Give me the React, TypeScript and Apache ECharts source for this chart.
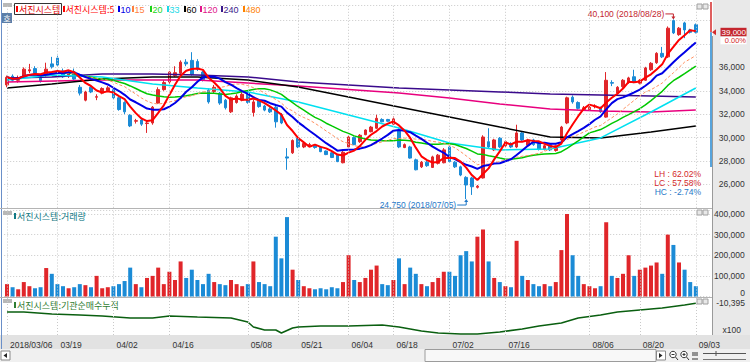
import React, { useEffect, useRef } from "react";
import * as echarts from "echarts";

// ---------- DATA ----------
const dates = [
  "2018/03/06","2018/03/07","2018/03/08","2018/03/09","2018/03/12","2018/03/13","2018/03/14","2018/03/15","2018/03/16","2018/03/19",
  "2018/03/20","2018/03/21","2018/03/22","2018/03/23","2018/03/26","2018/03/27","2018/03/28","2018/03/29","2018/03/30","2018/04/02",
  "2018/04/03","2018/04/04","2018/04/05","2018/04/06","2018/04/09","2018/04/10","2018/04/11","2018/04/12","2018/04/13","2018/04/16",
  "2018/04/17","2018/04/18","2018/04/19","2018/04/20","2018/04/23","2018/04/24","2018/04/25","2018/04/26","2018/04/27","2018/04/30",
  "2018/05/02","2018/05/03","2018/05/04","2018/05/08","2018/05/09","2018/05/10","2018/05/11","2018/05/14","2018/05/15","2018/05/16",
  "2018/05/17","2018/05/18","2018/05/21","2018/05/23","2018/05/24","2018/05/25","2018/05/28","2018/05/29","2018/05/30","2018/05/31",
  "2018/06/01","2018/06/04","2018/06/05","2018/06/07","2018/06/08","2018/06/11","2018/06/12","2018/06/14","2018/06/15","2018/06/18",
  "2018/06/19","2018/06/20","2018/06/21","2018/06/22","2018/06/25","2018/06/26","2018/06/27","2018/06/28","2018/06/29","2018/07/02",
  "2018/07/03","2018/07/04","2018/07/05","2018/07/06","2018/07/09","2018/07/10","2018/07/11","2018/07/12","2018/07/13","2018/07/16",
  "2018/07/17","2018/07/18","2018/07/19","2018/07/20","2018/07/23","2018/07/24","2018/07/25","2018/07/26","2018/07/27","2018/07/30",
  "2018/07/31","2018/08/01","2018/08/02","2018/08/03","2018/08/06","2018/08/07","2018/08/08","2018/08/09","2018/08/10","2018/08/13",
  "2018/08/14","2018/08/16","2018/08/17","2018/08/20","2018/08/21","2018/08/22","2018/08/23","2018/08/24","2018/08/27","2018/08/28",
  "2018/08/29","2018/08/30","2018/08/31","2018/09/03"
];

const opens = [
  34500,35250,34900,35250,35700,35900,35200,35300,36300,36800,
  35700,35300,35600,34300,33200,34300,33450,33800,34000,34100,
  33400,33000,31900,31400,31500,31200,31250,32950,34100,34750,
  35300,35500,36450,36600,36500,35600,34050,33950,33800,33200,
  32200,33000,33200,33800,32150,33150,32700,32450,32600,31950,
  28350,28700,29950,29200,29350,29350,29200,28850,28700,28500,
  27850,29200,30000,29650,30250,30500,30800,31550,31550,31150,
  30650,29150,29200,28100,27500,27900,27450,27800,27850,29200,
  27900,27500,26600,26550,25750,26550,29650,28950,29950,29300,
  29500,29200,30400,29350,29800,29500,29000,29400,28900,29800,
  31250,33450,33000,32400,32400,32650,32550,31750,34700,33800,
  34350,34700,35200,34650,34900,35800,36400,37200,36900,40000,
  38800,39800,39200,39650
];
const closes = [
  35150,34900,35100,35850,35800,35500,34850,35850,36050,36200,
  35200,35450,35000,33800,33900,33900,33500,34200,34250,33400,
  32400,32200,31000,31450,31150,31250,32600,34100,34700,35600,
  35550,36450,36300,35400,35850,34950,33050,34300,32950,32550,
  33400,33550,33700,33000,33050,32650,32350,32200,31350,31250,
  28250,29750,29200,29500,29400,29150,28800,28550,28300,27950,
  28750,30050,29400,30200,30650,30900,31650,31350,31400,31600,
  29200,29400,28250,27250,27900,27600,28350,28500,28950,27950,
  27500,26800,25950,25800,25850,30050,29200,29800,29200,29650,
  29200,30400,29800,29800,29400,29000,29300,28950,29300,30900,
  33400,33050,32500,32550,32600,32700,32200,34900,34650,34300,
  34900,35100,34750,34900,35950,36350,37200,36900,39350,38950,
  39350,39200,39000,39000
];
const lows = [
  34300,34800,34700,35100,35500,35400,34700,35200,35900,36100,
  35100,35100,34900,33600,33100,33800,33200,33700,33900,33300,
  32300,32000,30900,31200,31000,30400,31100,32900,34000,34600,
  35200,35400,36100,35300,35700,34800,32900,33800,32800,32400,
  32100,32900,33100,32900,31800,32550,32250,32100,30850,31150,
  27250,28600,29100,29100,29250,29050,28750,28500,28250,27900,
  27800,29100,29350,29550,30200,30450,30750,31300,31350,31100,
  29100,29100,28200,27200,27400,27500,27400,27700,27800,27850,
  27400,26700,24750,25100,25650,26500,29100,28850,29100,29200,
  29100,29100,29700,29300,29300,28900,28900,28850,28800,29700,
  31150,32900,32400,32300,32300,32500,32100,31700,34400,33700,
  34250,34600,34650,34550,34850,35700,36300,36800,36800,38850,
  38700,38500,38900,38900
];
const highs = [
  35300,35400,35300,36000,36300,36100,35300,36400,36900,37000,
  35900,35700,35900,34500,34000,34400,33700,34300,34400,34300,
  33500,33100,32000,31600,31600,31400,32700,34300,34900,35700,
  36100,36600,36700,37300,36700,35700,34200,34500,33900,33300,
  33500,33700,33900,34000,33250,33250,32800,32600,32750,32100,
  29100,29850,30050,29600,29550,29450,29250,28900,28750,28550,
  28850,30150,30100,30300,30700,31000,31950,31650,31600,31800,
  30800,29500,29300,28200,28000,28000,28450,28600,29100,29300,
  28000,27600,26700,26650,25950,30200,30800,29900,30050,29750,
  29600,31100,30500,29900,29900,29600,29400,29500,29400,31000,
  33500,33600,33100,32700,32800,32850,32650,35600,34900,34400,
  35000,35200,35800,35000,36050,36450,37300,37750,39500,40100,
  39450,39900,39300,39750
];
const volumes = [
  60000,45000,35000,70000,50000,40000,45000,138000,110000,60000,
  50000,40000,45000,60000,55000,45000,100000,40000,45000,50000,
  60000,75000,140000,60000,45000,90000,100000,140000,60000,120000,
  80000,170000,90000,130000,80000,60000,110000,70000,60000,55000,
  80000,60000,50000,60000,170000,70000,60000,50000,290000,185000,
  385000,130000,80000,50000,40000,35000,40000,35000,45000,40000,
  70000,200000,80000,70000,90000,130000,150000,60000,55000,80000,
  185000,60000,140000,110000,60000,50000,70000,90000,120000,120000,
  100000,200000,220000,170000,290000,325000,170000,90000,70000,50000,
  45000,270000,100000,80000,60000,50000,60000,50000,70000,225000,
  400000,200000,100000,60000,50000,40000,50000,360000,100000,90000,
  110000,200000,100000,130000,140000,150000,165000,110000,300000,250000,
  165000,130000,70000,50000
];
// long moving averages: [candle index, value]
const ma33Points = [[0,34920],[8,35350],[17,35180],[26,34580],[34,34240],[43,33900],[52,33040],[61,31930],[70,30820],[79,29540],[88,28940],[97,29030],[106,29970],[115,32190],[123,34240]];
const ma60Points = [[0,34240],[8,34580],[17,35010],[26,35180],[34,35180],[43,34920],[52,34320],[61,33470],[70,32610],[79,31760],[88,30900],[97,30050],[106,29970],[115,30480],[123,31000]];
const ma120Points = [[0,34750],[17,34920],[34,34920],[52,34410],[70,33810],[79,33380],[88,32870],[97,32440],[106,32270],[115,32190],[123,32360]];
const ma240Points = [[0,35090],[8,35180],[17,35440],[26,35440],[34,35350],[43,35180],[52,34750],[61,34500],[70,34240],[79,34070],[88,33900],[97,33730],[106,33640],[115,33560],[123,33470]];
// institutional net-buying cumulative (x100 shares): [candle index, value]
const instCumPoints = [[0,-19100],[3,-19100],[8,-21100],[13,-22100],[17,-23100],[22,-25100],[26,-25100],[29,-23100],[34,-24100],[40,-25100],[43,-29100],[44,-34100],[46,-37100],[48,-37100],[49,-40100],[51,-35100],[52,-34100],[56,-33100],[61,-33100],[67,-32100],[70,-34100],[74,-38100],[77,-40100],[81,-41100],[84,-41100],[88,-39100],[92,-36100],[95,-33100],[99,-30100],[102,-25100],[106,-22100],[109,-19100],[113,-17100],[117,-15100],[121,-12100],[123,-10395]];
const dateTickIdx = [0, 9, 19, 29, 43, 52, 61, 69, 79, 89, 104, 113, 123];

// ---------- STYLE ----------
const UP = "#e0262a";
const DOWN = "#1b8bd6";
const NUM_FONT = "'Liberation Sans', Arial, sans-serif";
const KR_FONT = "'Noto Sans CJK KR', sans-serif";
const GRID_LINE = { color: "#c9c9c9", type: [1, 2] as any, width: 1 };
const MA_COLORS: Record<number, string> = {
  5: "#ff0000", 10: "#0000e6", 15: "#ff9060", 20: "#00c800", 33: "#00e0f0",
  60: "#000000", 120: "#e8007e", 240: "#3a0a8c", 480: "#ff8000",
};

const fmt = (v: number) => v.toLocaleString("en-US");

function sma(arr: number[], n: number) {
  return arr.map((_, i) => {
    const s = Math.max(0, i - n + 1);
    let sum = 0;
    for (let k = s; k <= i; k++) sum += arr[k];
    return Math.round(sum / (i - s + 1));
  });
}

export default function App() {
  const ref = useRef<HTMLDivElement>(null);

  useEffect(() => {
    const el = ref.current;
    if (!el) return;
    const chart = echarts.init(el, null, { renderer: "svg" });

    const N = dates.length;
    const last = closes[N - 1], prev = closes[N - 2];

    const xCats = dates.concat(["", ""]);
    const ohlc = dates.map((_, i) => [opens[i], closes[i], lows[i], highs[i]]);
    const vLines = {
      silent: true,
      symbol: ["none", "none"],
      label: { show: false },
      lineStyle: GRID_LINE,
      emphasis: { disabled: true },
      data: dateTickIdx.map((i) => ({ xAxis: i })),
      animation: false,
    };

    const grids = [
      { left: 4.2, top: 5, width: 705.6, height: 202.8 },
      { left: 4.2, top: 210, width: 705.6, height: 86.5 },
      { left: 4.2, top: 298, width: 705.6, height: 37 },
    ];

    const xAxes = [0, 1, 2].map((g) => ({
      type: "category",
      gridIndex: g,
      data: xCats,
      boundaryGap: true,
      axisLine: { show: false },
      axisTick: { show: false },
      splitLine: { show: false },
      axisLabel:
        g === 2
          ? {
              show: true,
              interval: (i: number) => dateTickIdx.includes(i),
              formatter: (v: string, i: number) => (i === 0 ? v : v.slice(5)),
              align: "left",
              padding: [0, 0, 0, 3],
              fontSize: 8.5,
              color: "#333",
              fontFamily: NUM_FONT,
              margin: 5,
            }
          : { show: false },
    }));

    const yAxes = [
      {
        type: "value", gridIndex: 0, position: "right", min: 24000, max: 41333, interval: 2000,
        axisLine: { show: false }, axisTick: { show: false },
        splitLine: { show: true, lineStyle: GRID_LINE },
        axisLabel: {
          showMinLabel: false, showMaxLabel: false,
          formatter: (v: number) => (Math.abs(v - last) < 1500 ? "" : fmt(v)),
          align: "right", margin: 35, fontSize: 8.5, color: "#333", fontFamily: NUM_FONT,
        },
      },
      {
        type: "value", gridIndex: 1, position: "right", min: 0, max: 419400, interval: 100000,
        axisLine: { show: false }, axisTick: { show: false },
        splitLine: { show: true, lineStyle: GRID_LINE },
        axisLabel: { showMinLabel: false, showMaxLabel: false, formatter: (v: number) => fmt(v), align: "right", margin: 35, fontSize: 8.5, color: "#333", fontFamily: NUM_FONT },
      },
      {
        type: "value", gridIndex: 2, position: "right", min: -42100, max: -5100,
        axisLine: { show: false }, axisTick: { show: false },
        splitLine: { show: false }, axisLabel: { show: false },
      },
    ];

    const maLine = (name: string, data: any, color: string, width: number, dashed = false) => ({
      name, type: "line", xAxisIndex: 0, yAxisIndex: 0, data, symbol: "none", z: 3,
      lineStyle: { color, width, type: dashed ? [3, 2] : "solid" }, silent: true,
    });

    const series: any[] = [
      {
        name: "서진시스템", type: "candlestick", xAxisIndex: 0, yAxisIndex: 0, data: ohlc, barWidth: 3.2, z: 2,
        itemStyle: { color: UP, color0: DOWN, borderColor: UP, borderColor0: DOWN, borderWidth: 1 },
        markLine: vLines,
      },
      maLine("MA240", ma240Points, MA_COLORS[240], 1.5),
      maLine("MA120", ma120Points, MA_COLORS[120], 1.5),
      maLine("MA60", ma60Points, MA_COLORS[60], 1.5),
      maLine("MA33", ma33Points, MA_COLORS[33], 1.5),
      maLine("MA20", sma(closes, 20), MA_COLORS[20], 1.5),
      maLine("MA15", sma(closes, 15), MA_COLORS[15], 1, true),
      maLine("MA10", sma(closes, 10), MA_COLORS[10], 2),
      maLine("MA5", sma(closes, 5), MA_COLORS[5], 2),
      {
        name: "거래량", type: "bar", xAxisIndex: 1, yAxisIndex: 1, barWidth: 4,
        data: volumes.map((v, i) => ({ value: v, itemStyle: { color: closes[i] >= opens[i] ? UP : DOWN } })),
        markLine: vLines,
      },
      {
        name: "기관순매수누적", type: "line", xAxisIndex: 2, yAxisIndex: 2, data: instCumPoints, symbol: "none",
        lineStyle: { color: "#0a5f10", width: 1.6 }, markLine: vLines,
      },
    ];

    chart.setOption({
      animation: false,
      backgroundColor: "transparent",
      grid: grids,
      xAxis: xAxes,
      yAxis: yAxes,
      series,
    });

    let iHigh = 0, iLow = 0;
    for (let i = 0; i < N; i++) {
      if (highs[i] > highs[iHigh]) iHigh = i;
      if (lows[i] < lows[iLow]) iLow = i;
    }
    const maxHigh = highs[iHigh], minLow = lows[iLow];
    const pctChg = ((last - prev) / prev) * 100;
    const LH = ((maxHigh - minLow) / minLow) * 100;
    const LC = ((last - minLow) / minLow) * 100;
    const HC = ((last - maxHigh) / maxHigh) * 100;

    const pH = chart.convertToPixel({ gridIndex: 0 }, [iHigh, maxHigh]) as number[];
    const pL = chart.convertToPixel({ gridIndex: 0 }, [iLow, minLow]) as number[];
    const pC = chart.convertToPixel({ gridIndex: 0 }, [N - 1, last]) as number[];
    const pV0 = chart.convertToPixel({ gridIndex: 1 }, [0, 0]) as number[];
    const lastInst = instCumPoints[instCumPoints.length - 1];
    const pI = chart.convertToPixel({ gridIndex: 2 }, lastInst) as number[];

    const numText = (x: number, y: number, text: string, fill: string, align = "right", size = 8.5) => ({
      type: "text", x, y, silent: true,
      style: { text, fill, align, verticalAlign: "middle", fontSize: size, fontFamily: NUM_FONT },
    });
    const krText = (x: number, y: number, text: string, fill: string) => ({
      type: "text", x, y, silent: true,
      style: { text, fill, align: "left", verticalAlign: "middle", fontSize: 9, fontFamily: KR_FONT },
    });
    const rect = (x: number, y: number, w: number, h: number, fill: string, stroke?: string) => ({
      type: "rect", silent: true, shape: { x, y, width: w, height: h },
      style: { fill, stroke: stroke || null, lineWidth: 1 },
    });
    const line = (x1: number, y1: number, x2: number, y2: number, stroke: string, w = 1) => ({
      type: "line", silent: true, shape: { x1, y1, x2, y2 }, style: { stroke, lineWidth: w },
    });

    const legendItems = [
      { x: 63, text: "서진시스템:5", p: 5, kr: true },
      { x: 118, text: "10", p: 10 },
      { x: 132, text: "15", p: 15 },
      { x: 150, text: "20", p: 20 },
      { x: 167, text: "33", p: 33 },
      { x: 184, text: "60", p: 60 },
      { x: 200, text: "120", p: 120 },
      { x: 221, text: "240", p: 240 },
      { x: 243, text: "480", p: 480 },
    ];
    const legendColor: Record<number, string> = { ...MA_COLORS, 15: "#ff7f3f", 20: "#19d419", 33: "#19d9e6", 120: "#e0158a", 240: "#3a1a8c" };

    const graphics: any[] = [
      line(1.5, 0, 1.5, 349, "#6a8fc8"),
      line(0, 208.5, 712, 208.5, "#b4b4b4"),
      line(0, 297.5, 712, 297.5, "#b4b4b4"),
      line(712.5, 36, 712.5, 335, "#9a9a9a"),
      rect(3, 3, 9, 4, "#b8b8b8"), rect(3, 211, 9, 4, "#b8b8b8"), rect(3, 299, 9, 4, "#b8b8b8"),
      rect(697, 4, 5, 5, "#e8e8e8", "#a0a0a0"), rect(703, 4, 5, 5, "#e8e8e8", "#a0a0a0"),
      rect(697, 210, 5, 5, "#e8e8e8", "#a0a0a0"), rect(703, 210, 5, 5, "#e8e8e8", "#a0a0a0"),
      rect(697, 299, 5, 5, "#e8e8e8", "#a0a0a0"), rect(703, 299, 5, 5, "#e8e8e8", "#a0a0a0"),
      rect(2, 13, 10, 10, "#5b7ea8"),
      { type: "text", x: 7, y: 18.5, silent: true, style: { text: "호", fill: "#fff", align: "center", verticalAlign: "middle", fontSize: 8, fontFamily: KR_FONT } },
      rect(14.5, 3.5, 47, 11, "#ffffff", "#333333"),
      rect(16, 6, 2, 6, "#ff0000"),
      krText(19, 9.5, "서진시스템", "#e00000"),
      ...legendItems.flatMap((it) => [
        rect(it.x, 6, 2, 6, legendColor[it.p]),
        it.kr ? krText(it.x + 2.5, 9.5, it.text, legendColor[it.p]) : numText(it.x + 2.5, 9.5, it.text, legendColor[it.p], "left", 9),
      ]),
      rect(14, 213, 2, 6, "#127a86"),
      krText(17, 216, "서진시스템:거래량", "#127a86"),
      rect(14, 302, 2, 6, "#2f7d32"),
      krText(17, 305, "서진시스템:기관순매수누적", "#2f7d32"),
      numText(pH[0] - 9, pH[1] - 5.5, `${fmt(maxHigh)} (${dates[iHigh]})`, "#c4262e"),
      { type: "polyline", silent: true, shape: { points: [[pH[0] - 8, pH[1] - 5.5], [pH[0], pH[1] - 5.5], [pH[0], pH[1] - 2]] }, style: { stroke: "#c4262e", lineWidth: 1, fill: null } },
      { type: "polygon", silent: true, shape: { points: [[pH[0] - 2, pH[1] - 3], [pH[0] + 2, pH[1] - 3], [pH[0], pH[1]]] }, style: { fill: "#c4262e" } },
      numText(pL[0] - 10, pL[1] + 6, `${fmt(minLow)} (${dates[iLow]})`, "#1f78c8"),
      { type: "polyline", silent: true, shape: { points: [[pL[0] - 9, pL[1] + 6], [pL[0], pL[1] + 6], [pL[0], pL[1] + 2]] }, style: { stroke: "#1f78c8", lineWidth: 1, fill: null } },
      { type: "polygon", silent: true, shape: { points: [[pL[0] - 2, pL[1] + 3], [pL[0] + 2, pL[1] + 3], [pL[0], pL[1]]] }, style: { fill: "#1f78c8" } },
      line(711, 2, 711, pC[1], "#d42a2a", 1.5),
      line(711, pC[1], 711, 167, "#1f86d0", 1.5),
      { type: "polygon", silent: true, shape: { points: [[712, pC[1]], [716, pC[1] - 3], [716, pC[1] + 3]] }, style: { fill: "#d42a2a" } },
      rect(720.5, pC[1] - 4.5, 26, 8.5, "#c4262e"),
      numText(746, pC[1], fmt(last), "#ffffff", "right", 8),
      rect(720.5, pC[1] + 4.5, 26, 7.5, "#ffffff"),
      numText(746, pC[1] + 8.5, `${pctChg.toFixed(2)}%`, "#d42a2a", "right", 7.5),
      numText(701, 174, `LH : ${LH.toFixed(2)}%`, "#d42a2a"),
      numText(701, 183, `LC : ${LC.toFixed(2)}%`, "#d42a2a"),
      numText(701, 192, `HC : ${HC.toFixed(2)}%`, "#1f78c8"),
      numText(745, pV0[1] - 3.5, "0", "#333"),
      numText(745, pI[1], fmt(lastInst[1]), "#333"),
      numText(741, 330, "x100", "#333"),
      rect(1, 351, 9, 9, "#ffffff", "#8a8a8a"),
      { type: "polygon", silent: true, shape: { points: [[3.5, 355.5], [7, 353], [7, 358]] }, style: { fill: "#222" } },
      rect(425, 349.5, 231, 12, "#f8f8f8", "#9c9c9c"),
      rect(656.5, 351, 9, 9, "#ffffff", "#8a8a8a"),
      { type: "polygon", silent: true, shape: { points: [[662.5, 355.5], [659, 353], [659, 358]] }, style: { fill: "#222" } },
      { type: "circle", silent: true, shape: { cx: 673, cy: 354.5, r: 3.2 }, style: { fill: "#fff", stroke: "#333", lineWidth: 1 } },
      line(675.5, 357, 678, 360, "#333"), line(671.5, 354.5, 674.5, 354.5, "#333"),
      { type: "circle", silent: true, shape: { cx: 684, cy: 354.5, r: 3.2 }, style: { fill: "#fff", stroke: "#333", lineWidth: 1 } },
      line(686.5, 357, 689, 360, "#333"), line(682.5, 354.5, 685.5, 354.5, "#333"), line(684, 353, 684, 356, "#333"),
      line(693, 352, 693, 356, "#333"), line(695, 352, 695, 356, "#333"), line(697, 352, 697, 356, "#333"),
      line(692, 359, 698, 359, "#333"),
      line(703, 353.5, 746, 353.5, "#555"), line(716, 351, 716, 356, "#555"),
      line(703, 359.5, 746, 359.5, "#777"),
    ];

    chart.setOption({ graphic: graphics });

    return () => chart.dispose();
  }, []);

  return (
    <div style={{ position: "fixed", left: 0, top: 0, width: 750, height: 362, background: "#ffffff", overflow: "hidden" }}>
      <div style={{ position: "absolute", left: 713, top: 0, width: 37, height: 349, background: "#e9e9e9" }} />
      <div style={{ position: "absolute", left: 0, top: 335, width: 750, height: 14, background: "#e2e2e2" }} />
      <div style={{ position: "absolute", left: 0, top: 349, width: 750, height: 13, background: "#f0f0f0" }} />
      <div ref={ref} style={{ position: "absolute", left: 0, top: 0, width: 750, height: 362 }} />
    </div>
  );
}
